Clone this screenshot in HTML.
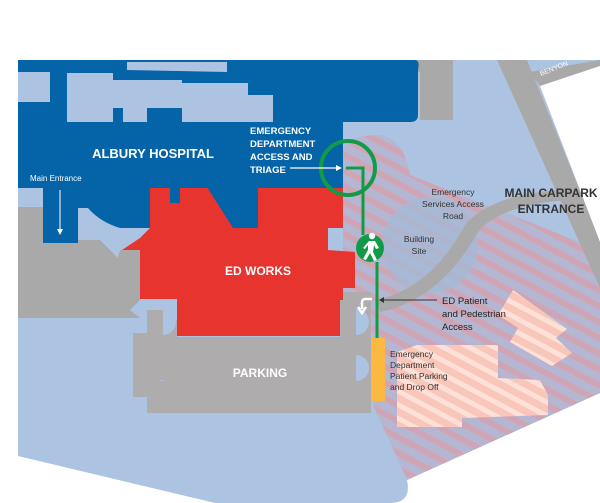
<!DOCTYPE html>
<html><head><meta charset="utf-8"><style>
html,body{margin:0;padding:0;background:#fff;width:600px;height:503px;overflow:hidden}
svg{display:block}
text{font-family:"Liberation Sans",sans-serif}
</style></head><body>
<svg width="600" height="503" viewBox="0 0 600 503" xmlns="http://www.w3.org/2000/svg">
<defs>
<pattern id="h" width="14" height="14" patternUnits="userSpaceOnUse" patternTransform="rotate(28)">
<rect width="14" height="14" fill="#b5b7d2"/><rect width="14" height="6" fill="#cfa5b5"/>
</pattern>
<pattern id="p" width="12" height="12" patternUnits="userSpaceOnUse" patternTransform="rotate(28)">
<rect width="12" height="12" fill="#f9c6ba"/><rect width="12" height="5" fill="#fde1d8"/>
</pattern>
</defs>
<path d="M18 60 L600 60 L600 393 L407 480 Q412 503 390 503 L215 503 L18 456 Z" fill="#adc3e2"/>
<path d="M343 150 Q345 135 380 135 Q405 140 410 175 L600 250 L600 393 L407 480 L373 405 L371 300 L343 300 Z" fill="url(#h)"/>
<circle cx="430" cy="245" r="48" fill="#a3b9d6" opacity="0.75"/>
<path d="M497 60 L527 60 L600 240 L600 288 Z" fill="#aaa9a9"/>
<path d="M530 72 L600 60 L600 66 L540 86 Z" fill="#aaa9a9"/>
<path d="M540 86 L600 66 L600 242 Z" fill="#fff"/>
<path d="M375 300 Q430 290 465 225 Q490 195 560 190 L568 200 Q500 205 478 232 Q440 300 380 312 Z" fill="#aaa9a9"/>
<path d="M387 60 L453 60 L453 120 L420 120 L420 72 L387 72 Z" fill="#aaa9a9"/>
<path d="M397 352 L417 345 L498 345 L498 378 L540 380 L548 395 L548 415 L462 418 L462 427 L397 427 Z" fill="url(#p)"/>
<path d="M513 290 L567 329 L556 338 L572 353 L552 366 L510 342 L518 328 L498 315 Z" fill="url(#p)"/>
<path d="M18 207 L60 207 L60 240 L100 240 L118 258 L120 250 L140 250 L140 300 L130 310 L140 318 L18 318 Z" fill="#aaa9a9"/>
<path d="M18 60 L340 60 L415 60 Q420 60 418 70 L418 115 Q418 122 410 122 L343 122 L343 188 L150 188 L150 228 L120 228 Q100 222 88 208 L78 208 L78 243 L43 243 L43 188 L18 188 Z" fill="#0563a8"/>
<rect x="328" y="188" width="15" height="40" fill="#0563a8"/>
<path d="M18 72 L50 72 L50 102 L18 102Z M67 73 L113 73 L113 80 L182 80 L182 83 L248 83 L248 95 L273 95 L273 122 L182 122 L182 108 L147 108 L147 122 L123 122 L123 108 L113 108 L113 122 L67 122Z M127 62 L227 62 L227 72 L127 70Z" fill="#adc3e2"/>
<path d="M150 188 L170 188 L170 203 L180 203 L180 188 L343 188 L343 228 L328 228 L328 250 L355 252 L355 288 L343 288 L343 336 L177 336 L177 299 L140 299 L140 250 L122 250 L140 238 L150 228 Z" fill="#e8342f"/>
<path d="M207 187 L258 187 L258 228 L233 228 Z" fill="#0563a8"/>
<rect x="170" y="187" width="10" height="16" fill="#0563a8"/>
<path d="M343 292 L371 292 L371 413 L147 413 L147 397 L133 397 L133 333 L147 333 L147 320 L177 320 L177 337 L343 337 Z" fill="#aeacac"/>
<circle cx="163" cy="322" r="13" fill="#adc3e2"/><circle cx="163" cy="368" r="13" fill="#adc3e2"/>
<circle cx="356" cy="322" r="13" fill="#adc3e2"/><circle cx="356" cy="368" r="13" fill="#adc3e2"/>
<rect x="147" y="310" width="16" height="70" fill="#aeacac"/>
<rect x="340" y="300" width="16" height="80" fill="#aeacac"/>
<rect x="163" y="337" width="193" height="76" fill="#aeacac"/>
<rect x="371" y="338" width="14" height="63" fill="#fcb941"/>
<circle cx="348" cy="168" r="27" fill="none" stroke="#119b48" stroke-width="4"/>
<polyline points="346,168 363,168 363,235" fill="none" stroke="#119b48" stroke-width="3"/>
<line x1="377" y1="262" x2="377" y2="338" stroke="#119b48" stroke-width="3"/>
<circle cx="370" cy="248" r="14" fill="#119b48"/>
<circle cx="372" cy="236" r="3.2" fill="#fff"/>
<path d="M369 241 L375 241 L379 248 L376 249 L374 245 L373 252 L377 260 L374 261 L370 253 L366 260 L363 259 L368 250 L368 245 L365 249 L363 248 Z" fill="#fff"/>
<path d="M372 299 L365 299 Q362 299 362 303 L362 309 M358 307 L362 313 L366 307" fill="none" stroke="#fff" stroke-width="2.5"/>
<g fill="#fff" font-weight="bold">
<text x="153" y="158" font-size="13" text-anchor="middle">ALBURY HOSPITAL</text>
<text x="258" y="275" font-size="12" text-anchor="middle">ED WORKS</text>
<text x="260" y="377" font-size="12" text-anchor="middle">PARKING</text>
<g font-size="9.5"><text x="250" y="134">EMERGENCY</text><text x="250" y="147">DEPARTMENT</text><text x="250" y="160">ACCESS AND</text><text x="250" y="173">TRIAGE</text></g>
</g>
<text x="30" y="181" font-size="8" fill="#fff">Main Entrance</text>
<line x1="60" y1="190" x2="60" y2="230" stroke="#fff" stroke-width="1"/>
<path d="M57 229 L60 235 L63 229Z" fill="#fff"/>
<line x1="290" y1="168" x2="337" y2="168" stroke="#fff" stroke-width="1.2"/>
<path d="M336 165 L342 168 L336 171Z" fill="#fff"/>
<g fill="#333" font-size="8.5" text-anchor="middle">
<text x="453" y="195">Emergency</text><text x="453" y="207">Services Access</text><text x="453" y="219">Road</text>
<text x="419" y="242">Building</text><text x="419" y="254">Site</text>
</g>
<g fill="#333" font-size="12" font-weight="bold" text-anchor="middle">
<text x="551" y="197">MAIN CARPARK</text><text x="551" y="213">ENTRANCE</text>
</g>
<g fill="#222" font-size="9.5"><text x="442" y="304">ED Patient</text><text x="442" y="317">and Pedestrian</text><text x="442" y="330">Access</text></g>
<line x1="382" y1="300" x2="437" y2="300" stroke="#333" stroke-width="1"/>
<path d="M384 297 L379 300 L384 303Z" fill="#333"/>
<g fill="#333" font-size="8.5"><text x="390" y="357">Emergency</text><text x="390" y="368">Department</text><text x="390" y="379">Patient Parking</text><text x="390" y="390">and Drop Off</text></g>
<text x="541" y="76" font-size="7" fill="#fff" transform="rotate(-22 541 76)">BENYON</text>
</svg>
</body></html>
